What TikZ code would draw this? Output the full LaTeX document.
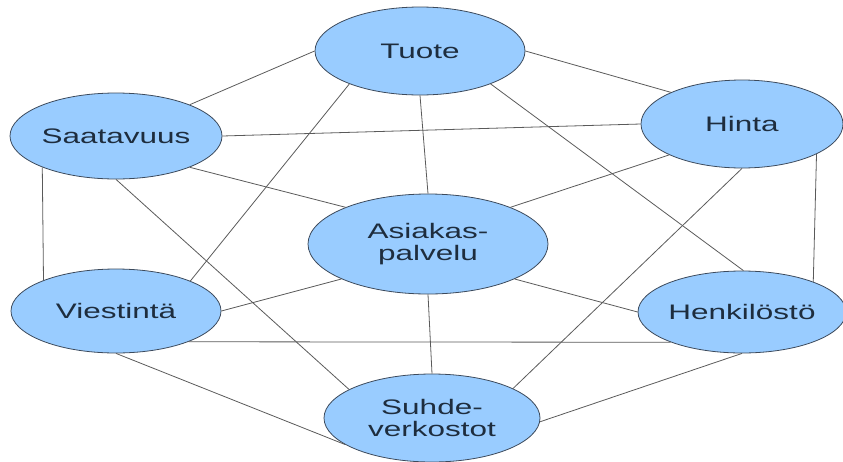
\documentclass[tikz,border=0pt]{standalone}
\usepackage{fontspec}
\setmainfont{Liberation Sans}[FakeStretch=1.5]
\usetikzlibrary{shapes.geometric}
\definecolor{bubble}{HTML}{99CCFF}
\definecolor{rim}{HTML}{3C4A5C}
\definecolor{ink}{HTML}{1E2D3E}
\definecolor{wire}{HTML}{5A5A5A}
\begin{document}
\begin{tikzpicture}[x=1pt,y=-1pt,
  ell/.style={ellipse,draw=rim,line width=0.8pt,fill=bubble,inner sep=0pt,
    text=ink,align=center,font=\fontsize{21}{22}\selectfont},
  link/.style={draw=wire,line width=0.8pt}]
  \useasboundingbox (0,0) rectangle (843,461);
  \node[ell,minimum width=210,minimum height=88] (tuote) at (420,51) {Tuote};
  \node[ell,minimum width=212,minimum height=86] (saat) at (116,136) {Saatavuus};
  \node[ell,minimum width=202,minimum height=88] (hinta) at (742,124) {Hinta};
  \node[ell,minimum width=240,minimum height=100] (asiakas) at (428,244) {Asiakas-\\palvelu};
  \node[ell,minimum width=210,minimum height=84] (viest) at (116,311) {Viestintä};
  \node[ell,minimum width=202,minimum height=82] (henk) at (742,312) {Henkilöstö};
  \node[ell,minimum width=216,minimum height=88] (suhde) at (432,418) {Suhde-\\verkostot};
  % yhteydet
  \draw[link] (tuote.180) -- (saat.23);
  \draw[link] (tuote.0) -- (hinta.156);
  \draw[link] (tuote.south) -- (asiakas.north);
  \draw[link] (tuote.-155) -- (viest.22);
  \draw[link] (tuote.-25) -- (henk.88);
  \draw[link] (saat.east) -- (hinta.west);
  \draw[link] (saat.-23) -- (asiakas.156);
  \draw[link] (saat.-157) -- (viest.157);
  \draw[link] (saat.south) -- (suhde.161);
  \draw[link] (hinta.-157) -- (asiakas.24);
  \draw[link] (hinta.-22) -- (henk.23);
  \draw[link] (hinta.south) -- (suhde.20);
  \draw[link] (asiakas.-158) -- (viest.east);
  \draw[link] (asiakas.-22) -- (henk.west);
  \draw[link] (asiakas.south) -- (suhde.north);
  \draw[link] (viest.-23) -- (henk.-157);
  \draw[link] (viest.south) -- (suhde.-163);
  \draw[link] (henk.south) -- (suhde.-2);
\end{tikzpicture}
\end{document}
